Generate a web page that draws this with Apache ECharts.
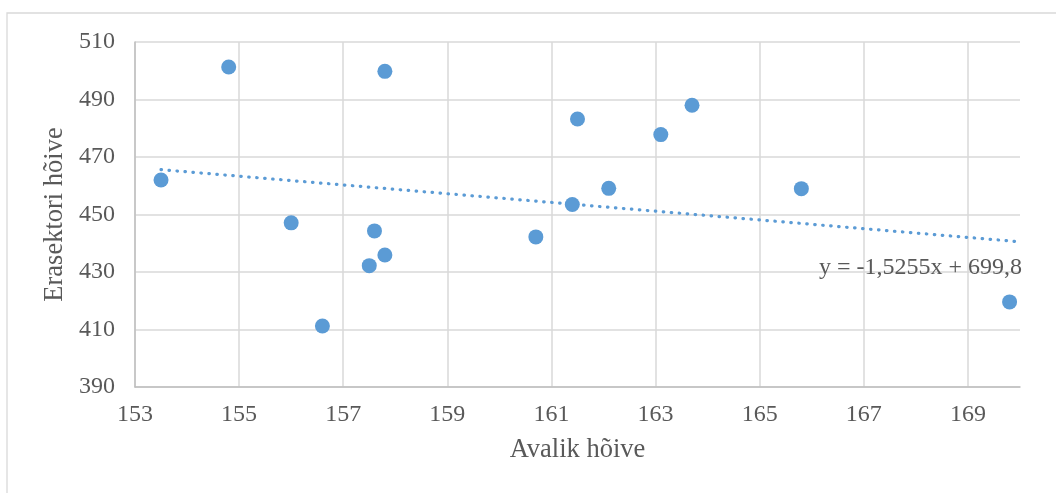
<!DOCTYPE html>
<html>
<head>
<meta charset="utf-8">
<script src="https://cdn.jsdelivr.net/npm/echarts@6/dist/echarts.min.js"></script>
<style>
html,body{margin:0;padding:0;background:#fff;}
#main{width:1056px;height:493px;}
</style>
</head>
<body>
<div id="main"></div>
<script>
// Data
const avalikHoive = [153.5, 154.8, 156.0, 156.6, 157.5, 157.6, 157.8, 157.8, 160.7, 161.4, 161.5, 162.1, 163.1, 163.7, 165.8, 169.8];
const erasektoriHoive = [462.0, 501.3, 447.1, 411.2, 432.2, 444.3, 435.9, 499.8, 442.2, 453.5, 483.2, 459.1, 477.8, 488.0, 459.0, 419.6];
// Trendline end points (from the shown equation y = -1,5255x + 699,8)
const trendX = [153.5, 170];
const trendY = [465.6, 440.5];
const equationText = 'y = -1,5255x + 699,8';
const xAxisTitle = 'Avalik hõive';
const yAxisTitle = 'Erasektori hõive';

const scatterData = avalikHoive.map((x, i) => [x, erasektoriHoive[i]]);
const trendData = trendX.map((x, i) => [x, trendY[i]]);

const textColor = '#595959';
const fontFam = '"Liberation Serif", "Times New Roman", serif';
const blue = '#5B9BD5';

const chart = echarts.init(document.getElementById('main'), null, {renderer: 'canvas'});
chart.setOption({
  animation: false,
  backgroundColor: '#fff',
  textStyle: {fontFamily: fontFam},
  graphic: [{
    type: 'rect',
    shape: {x: 7, y: 13, width: 1200, height: 600},
    style: {fill: 'none', stroke: '#d9d9d9', lineWidth: 1.3},
    silent: true, z: -10
  }],
  grid: {left: 135, right: 36, top: 42, bottom: 106},
  xAxis: {
    type: 'value', min: 153, max: 170, interval: 2,
    name: xAxisTitle, nameLocation: 'middle', nameGap: 50,
    nameTextStyle: {color: textColor, fontSize: 26.5, fontFamily: fontFam},
    axisLine: {show: true, lineStyle: {color: '#bfbfbf', width: 1.5}},
    axisTick: {show: false},
    axisLabel: {color: textColor, fontSize: 24, fontFamily: fontFam, margin: 16, showMaxLabel: false},
    splitLine: {show: true, showMaxLine: false, lineStyle: {color: '#d9d9d9', width: 1.5}}
  },
  yAxis: {
    type: 'value', min: 390, max: 510, interval: 20,
    name: yAxisTitle, nameLocation: 'middle', nameGap: 66,
    nameTextStyle: {color: textColor, fontSize: 26.5, fontFamily: fontFam},
    axisLine: {show: true, lineStyle: {color: '#bfbfbf', width: 1.5}},
    axisTick: {show: false},
    axisLabel: {color: textColor, fontSize: 24, fontFamily: fontFam, margin: 20},
    splitLine: {show: true, lineStyle: {color: '#d9d9d9', width: 1.5}}
  },
  series: [
    {
      type: 'line',
      data: trendData,
      showSymbol: false,
      symbol: 'none',
      lineStyle: {color: blue, width: 3.2, type: [0.5, 7.5], cap: 'round'},
      silent: true,
      z: 2,
      markPoint: {
        symbol: 'circle', symbolSize: 0,
        silent: true,
        data: [{coord: trendData[trendData.length - 1]}],
        label: {
          show: true, formatter: equationText, position: 'inside',
          align: 'right', verticalAlign: 'middle', offset: [2, 26],
          color: textColor, fontSize: 24, fontFamily: fontFam
        }
      }
    },
    {
      type: 'scatter',
      data: scatterData,
      symbol: 'circle',
      symbolSize: 15,
      itemStyle: {color: blue, opacity: 1},
      z: 3
    }
  ]
});
</script>
</body>
</html>
